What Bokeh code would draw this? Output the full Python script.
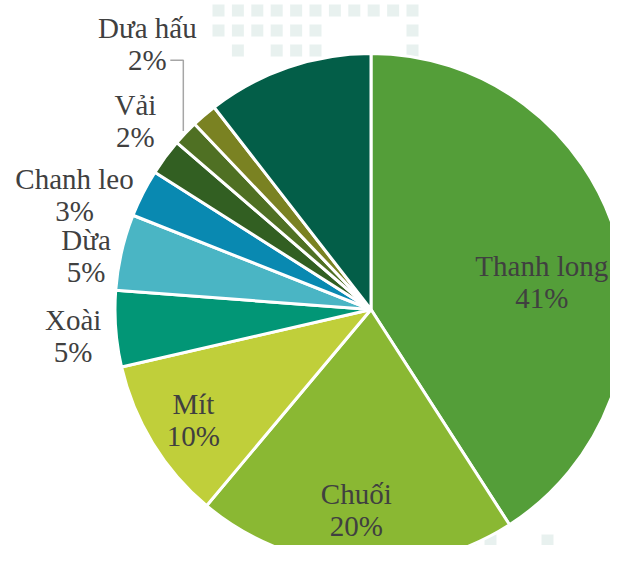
import math
from bokeh.plotting import figure
from bokeh.models import Range1d, ColumnDataSource
from bokeh.core.properties import value
from bokeh.embed import file_html
from bokeh.resources import INLINE

# ---- data ----
categories = ["Thanh long", "Chuối", "Mít", "Xoài", "Dừa", "Chanh leo", "Vải", "Dưa hấu", "Khác 1", "Khác 2"]
shares = [40.9, 20.2, 10.3, 4.8, 4.8, 3.0, 2.3, 1.6, 1.6, 10.5]
show_label = [True, True, True, True, True, True, True, True, False, False]
colors = ["#549E39", "#8AB833", "#C0CF3A", "#029676", "#4AB5C4", "#0989B1",
          "#325F22", "#4F7023", "#7A8222", "#035E48"]

# ---- layout (page pixel space, y up) ----
W, H = 610, 545
PAGE_H = 561
CX, CY = 370.5, PAGE_H - 309
R = 256
# label radial distance (px) and angular shift (deg, clockwise) from slice mid-angle
label_r = [173, 201, 209, 299, 290, 318, 302, 347, 0, 0]
label_shift = [7.1, 0.6, -0.3, -0.8, -2.3, -5.8, 2.2, 6.3, 0, 0]
LINE_GAP = 16

p = figure(width=W, height=H, output_backend="svg", toolbar_location=None,
           x_range=Range1d(0, W), y_range=Range1d(PAGE_H - H, PAGE_H),
           min_border=0)
p.axis.visible = False
p.grid.visible = False
p.outline_line_color = None
p.background_fill_color = "white"

# decorative pale square pattern
pattern_rows = [
    (PAGE_H - 10, [1, 1, 1, 1, 1, 1, 1, 1, 1, 1, 1]),
    (PAGE_H - 30, [1, 1, 1, 1, 1, 1, 0, 0, 0, 0, 1]),
    (PAGE_H - 50, [0, 1, 0, 1, 1, 1, 0, 0, 0, 0, 1]),
]
sx, sy = [], []
for yy, mask in pattern_rows:
    for i, m in enumerate(mask):
        if m:
            sx.append(218 + i * 19.4)
            sy.append(yy)
for xx in [470, 490, 547]:
    sx.append(xx)
    sy.append(PAGE_H - 540)
p.rect(sx, sy, width=12, height=12, fill_color="#E4EFEC", line_color=None, fill_alpha=0.85)

# wedges
total = sum(shares)
starts, ends, mids = [], [], []
cum = 0.0
for s in shares:
    a0 = cum / total
    cum += s
    a1 = cum / total
    starts.append(math.pi / 2 - 2 * math.pi * a0)
    ends.append(math.pi / 2 - 2 * math.pi * a1)
    mids.append(360 * (a0 + a1) / 2)

src = ColumnDataSource(dict(x=[CX] * len(shares), y=[CY] * len(shares),
                            start=starts, end=ends, color=colors, name=categories))
p.wedge(x="x", y="y", radius=R, start_angle="start", end_angle="end",
        direction="clock", fill_color="color", line_color="white", line_width=3,
        source=src)

# labels
lx, ly1, ly2, t1, t2 = [], [], [], [], []
for i, name in enumerate(categories):
    if not show_label[i]:
        continue
    th = math.radians(mids[i] + label_shift[i])
    x = CX + label_r[i] * math.sin(th)
    y = CY + label_r[i] * math.cos(th)
    lx.append(x)
    ly1.append(y + LINE_GAP)
    ly2.append(y - LINE_GAP)
    t1.append(name)
    t2.append(f"{round(shares[i] / total * 100)}%")

common = dict(text_font=value("Liberation Serif"), text_font_size="29px",
              text_color="#404040", text_align="center", text_baseline="middle")
p.text(x=lx, y=ly1, text=t1, **common)
p.text(x=lx, y=ly2, text=t2, **common)

# leader line for Dưa hấu
k = categories.index("Dưa hấu")
thk = math.radians(mids[k] + label_shift[k])
lab_x = CX + label_r[k] * math.sin(thk)
lab_y = CY + label_r[k] * math.cos(thk) - LINE_GAP
tm = math.radians(mids[k])
end_x = CX + (R + 3) * math.sin(tm)
end_y = CY + (R + 3) * math.cos(tm)
p.line([lab_x + 23, end_x, end_x], [lab_y, lab_y, end_y], line_color="#A6A6A6", line_width=1.5)

open("out.html", "w").write(file_html(p, INLINE))
